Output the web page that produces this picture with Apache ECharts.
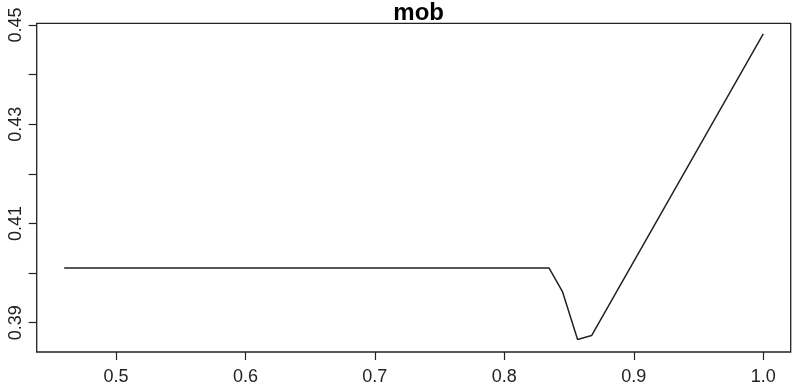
<!DOCTYPE html>
<html>
<head>
<meta charset="utf-8">
<script src="https://cdn.jsdelivr.net/npm/echarts@6/dist/echarts.min.js"></script>
<style>html,body{margin:0;padding:0;background:#fff}#c{width:797px;height:392px}</style>
</head>
<body>
<div id="c"></div>
<script>
// Data
const titleText = "mob";
const xValues = [0.46, 0.8346, 0.845, 0.8566, 0.8674, 1.0];
const yValues = [0.4010, 0.4010, 0.3962, 0.3866, 0.3874, 0.4482];
const xTicks = [0.5, 0.6, 0.7, 0.8, 0.9, 1.0];
const xTickLabels = ["0.5", "0.6", "0.7", "0.8", "0.9", "1.0"];
const yTicks = [0.39, 0.40, 0.41, 0.42, 0.43, 0.44, 0.45];
const yLabelTicks = [0.39, 0.41, 0.43, 0.45];

const font = "'Liberation Sans', Arial, sans-serif";
const chart = echarts.init(document.getElementById('c'), null, {renderer: 'canvas'});
chart.setOption({
  animation: false,
  backgroundColor: '#fff',
  title: {
    text: titleText, left: 413.7, top: -4, textAlign: 'center',
    textStyle: {fontFamily: font, fontWeight: 'bold', fontSize: 24, color: '#000'}
  },
  grid: {left: 36.7, right: 6.3, top: 23.3, bottom: 40, show: true,
         borderColor: '#222', borderWidth: 1.3, backgroundColor: 'transparent'},
  xAxis: {
    type: 'value', min: 0.4388, max: 1.0212,
    axisLine: {show: false},
    splitLine: {show: false},
    axisTick: {show: true, length: 8, inside: false, customValues: xTicks, lineStyle: {color: '#222', width: 1.2}},
    axisLabel: {show: true, margin: 16, customValues: xTicks, fontFamily: font, fontSize: 18, color: '#222',
      formatter: v => { const i = xTicks.findIndex(t => Math.abs(t - v) < 1e-9); return i >= 0 ? xTickLabels[i] : ''; }}
  },
  yAxis: {
    type: 'value', min: 0.38409, max: 0.45034,
    axisLine: {show: false},
    splitLine: {show: false},
    axisTick: {show: true, length: 8, inside: false, customValues: yTicks, lineStyle: {color: '#222', width: 1.2}},
    axisLabel: {show: true, margin: 12, rotate: 90, customValues: yLabelTicks, fontFamily: font, fontSize: 18, color: '#222',
      formatter: v => v.toFixed(2)}
  },
  series: [{
    type: 'line',
    data: xValues.map((x, i) => [x, yValues[i]]),
    showSymbol: false,
    symbol: 'none',
    lineStyle: {color: '#222', width: 1.5},
    clip: true
  }]
});
</script>
</body>
</html>
